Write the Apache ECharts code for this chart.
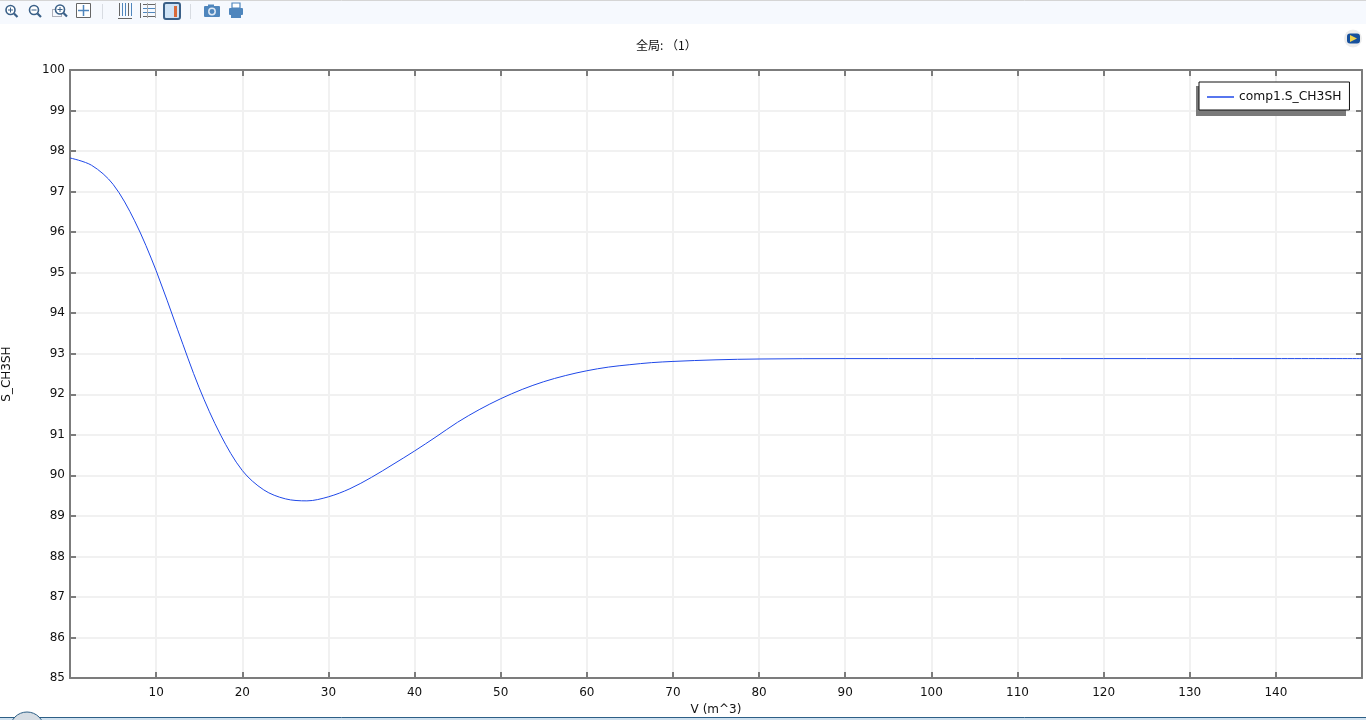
<!DOCTYPE html>
<html>
<head>
<meta charset="utf-8">
<title>S_CH3SH</title>
<script src="https://cdn.jsdelivr.net/npm/echarts@6/dist/echarts.min.js"></script>
<style>
  html, body { margin: 0; padding: 0; background: #fff; }
  #chart { width: 1366px; height: 720px; }
</style>
</head>
<body>
<div id="chart"></div>
<script>
// values
const volume = [0, 2.5, 5, 7.5, 10, 12.5, 15, 17.5, 20, 22.5, 25, 27.5, 30, 32.5, 35, 37.5, 40, 42.5, 45, 47.5, 50, 52.5, 55, 57.5, 60, 62.5, 65, 67.5, 70, 75, 80, 90, 100, 110, 120, 130, 140, 150];
const selectivity = [97.83, 97.65, 97.18, 96.28, 95.05, 93.59, 92.16, 90.99, 90.12, 89.64, 89.42, 89.37, 89.47, 89.67, 89.95, 90.27, 90.6, 90.95, 91.31, 91.62, 91.89, 92.12, 92.31, 92.46, 92.58, 92.67, 92.73, 92.78, 92.81, 92.85, 92.87, 92.88, 92.88, 92.88, 92.88, 92.88, 92.88, 92.88];
const seriesName = 'comp1.S_CH3SH';
const titleText = '全局: （1）';
const xName = 'V (m^3)';
const yName = 'S_CH3SH';

const font = '"DejaVu Sans"';
const axisGray = '#7c7c7c';
const gridGray = '#f1f1f1';
const iconDark = '#3a6088';
const iconBlue = '#4f86bd';

const chart = echarts.init(document.getElementById('chart'));

// magnifier used by the first three toolbar buttons
const lens = (cx, cy) => [
  { type: 'circle', shape: { cx, cy, r: 4.5 }, style: { fill: '#fff', stroke: iconDark, lineWidth: 1.6 } },
  { type: 'line', shape: { x1: cx + 3.5, y1: cy + 3.5, x2: cx + 7, y2: cy + 7 }, style: { stroke: iconDark, lineWidth: 2.2 } }
];
const hLine = (x1, x2, y, stroke, lineWidth = 1) => ({ type: 'line', shape: { x1, y1: y, x2, y2: y }, style: { stroke, lineWidth } });
const vLine = (x, y1, y2, stroke, lineWidth = 1) => ({ type: 'line', shape: { x1: x, y1, x2: x, y2 }, style: { stroke, lineWidth } });

const toolbar = [
  { type: 'rect', shape: { x: 0, y: 0, width: 1366, height: 24 }, style: { fill: '#f6f9fe' } },
  hLine(0, 1366, 0.5, '#d5d5d5'),
  ...lens(10.5, 10),
  hLine(8, 13, 10, iconDark), vLine(10.5, 7.5, 12.5, iconDark),
  ...lens(34, 10),
  hLine(31.5, 36.5, 10, iconDark),
  { type: 'rect', shape: { x: 52.5, y: 9.5, width: 9, height: 7 }, style: { fill: 'none', stroke: '#667', lineWidth: 1, lineDash: [1, 1] } },
  ...lens(60, 9.5),
  hLine(57.5, 62.5, 9.5, iconDark), vLine(60, 7, 12, iconDark),
  { type: 'rect', shape: { x: 76.5, y: 3.5, width: 14, height: 14 }, style: { fill: '#fff', stroke: '#666', lineWidth: 1 } },
  hLine(78, 89, 10.5, iconBlue, 1.5), vLine(83.5, 5, 16, iconBlue, 1.5),
  vLine(102.5, 4, 19, '#d8dce2'),
  vLine(119.5, 3, 16, '#666'), vLine(122.5, 3, 16, iconBlue), vLine(125.5, 3, 16, iconBlue), vLine(128.5, 3, 16, '#666'), vLine(131.5, 3, 16, iconBlue),
  hLine(118, 132, 18.5, '#666'),
  hLine(143, 156, 4.5, '#666'), hLine(143, 156, 8.5, iconBlue), hLine(143, 156, 12.5, iconBlue), hLine(143, 156, 16.5, '#666'),
  vLine(140.5, 3, 18, '#666'), vLine(147.5, 3, 18, '#aaa'), vLine(155.5, 3, 18, '#aaa'),
  { type: 'rect', shape: { x: 164, y: 3, width: 16, height: 16, r: 2 }, style: { fill: '#cfe3f6', stroke: iconDark, lineWidth: 2 } },
  { type: 'rect', shape: { x: 174, y: 6, width: 3, height: 11 }, style: { fill: '#d96a3a' } },
  vLine(190.5, 4, 19, '#d8dce2'),
  { type: 'rect', shape: { x: 204, y: 6, width: 16, height: 11, r: 1 }, style: { fill: iconBlue } },
  { type: 'rect', shape: { x: 208, y: 4.5, width: 6, height: 3 }, style: { fill: iconBlue } },
  { type: 'circle', shape: { cx: 212, cy: 11.5, r: 3.2 }, style: { fill: '#4f86bd', stroke: '#dfe9f4', lineWidth: 1.5 } },
  { type: 'rect', shape: { x: 232, y: 3, width: 8, height: 5 }, style: { fill: '#fff', stroke: iconBlue, lineWidth: 1.2 } },
  { type: 'rect', shape: { x: 229, y: 8, width: 14, height: 7, r: 1 }, style: { fill: iconBlue } },
  { type: 'rect', shape: { x: 231, y: 15, width: 10, height: 3 }, style: { fill: iconBlue } },
  // small play badge at the top right
  { type: 'circle', shape: { cx: 1353, cy: 38.5, r: 9 }, style: { fill: '#ececec' } },
  { type: 'rect', shape: { x: 1347, y: 33.5, width: 13, height: 10, r: 3 }, style: { fill: '#17509c' } },
  { type: 'polygon', shape: { points: [[1350, 35], [1357, 38.5], [1350, 42]] }, style: { fill: '#f0d24a' } },
  // window strip along the bottom edge
  { type: 'rect', shape: { x: 0, y: 717, width: 1366, height: 3 }, style: { fill: '#cfe0ee' } },
  hLine(0, 1366, 717.5, '#2d5f86'),
  { type: 'circle', shape: { cx: 27, cy: 729, r: 17 }, style: { fill: '#d6dde4', stroke: '#2d5f86', lineWidth: 1 } },
  { type: 'circle', shape: { cx: 24, cy: 730, r: 10 }, style: { fill: '#b0533a' } }
];

// gray drop shadow of the legend box, drawn just under it
const legendShadow = { type: 'rect', shape: { x: 1196, y: 86, width: 150, height: 30 }, style: { fill: '#7a7a7a' } };

const option = {
  animation: false,
  textStyle: { fontFamily: font },
  title: {
    text: titleText,
    left: 636, top: 39, padding: 0,
    textStyle: { fontFamily: '"Noto Sans CJK SC"', fontSize: 12, fontWeight: 'normal', color: '#111' }
  },
  legend: {
    data: [seriesName],
    left: 1199, top: 82,
    padding: [9, 8, 7, 8],
    icon: 'rect',
    itemWidth: 27, itemHeight: 1.5, itemGap: 0,
    backgroundColor: '#fff',
    borderColor: '#111', borderWidth: 1, borderRadius: 0,
    textStyle: { fontFamily: font, fontSize: 12.3, color: '#111' },
    z: 8
  },
  grid: { left: 70, right: 4, top: 70, bottom: 42, outerBoundsMode: 'none' },
  xAxis: [
    {
      type: 'value', min: 0, max: 150, interval: 10, position: 'bottom',
      name: xName, nameLocation: 'middle', nameGap: 24,
      nameTextStyle: { fontFamily: font, fontSize: 12, color: '#111' },
      axisLine: { onZero: false, lineStyle: { color: axisGray, width: 2 } },
      axisTick: { inside: true, length: 6, lineStyle: { color: axisGray, width: 2 } },
      axisLabel: { showMinLabel: false, showMaxLabel: false, margin: 9, fontFamily: font, fontSize: 12, color: '#111' },
      splitLine: { lineStyle: { color: gridGray, width: 2 } }
    },
    {
      type: 'value', min: 0, max: 150, interval: 10, position: 'top',
      axisLine: { onZero: false, lineStyle: { color: axisGray, width: 2 } },
      axisTick: { inside: true, length: 6, lineStyle: { color: axisGray, width: 2 } },
      axisLabel: { show: false },
      splitLine: { show: false }
    }
  ],
  yAxis: [
    {
      type: 'value', min: 85, max: 100, interval: 1, position: 'left',
      name: yName, nameLocation: 'middle', nameGap: 57, nameRotate: 90,
      nameTextStyle: { fontFamily: font, fontSize: 12, color: '#111' },
      axisLine: { onZero: false, lineStyle: { color: axisGray, width: 2 } },
      axisTick: { inside: true, length: 6, lineStyle: { color: axisGray, width: 2 } },
      axisLabel: { margin: 5, padding: [2, 0, 0, 0], fontFamily: font, fontSize: 12, color: '#111' },
      splitLine: { lineStyle: { color: gridGray, width: 2 } }
    },
    {
      type: 'value', min: 85, max: 100, interval: 1, position: 'right',
      axisLine: { onZero: false, lineStyle: { color: axisGray, width: 2 } },
      axisTick: { inside: true, length: 6, lineStyle: { color: axisGray, width: 2 } },
      axisLabel: { show: false },
      splitLine: { show: false }
    }
  ],
  series: [
    {
      name: seriesName,
      type: 'line',
      smooth: 0.33,
      symbol: 'none',
      lineStyle: { color: '#1f48e8', width: 1 },
      itemStyle: { color: '#1f48e8' },
      data: volume.map((v, i) => [v, selectivity[i]])
    }
  ],
  graphic: [
    { ...legendShadow, silent: true, z: 7 },
    ...toolbar.map((el) => ({ ...el, silent: true, z: 10 }))
  ]
};

chart.setOption(option);

// 监听窗口大小变化
window.addEventListener('resize', chart.resize);
</script>
</body>
</html>
